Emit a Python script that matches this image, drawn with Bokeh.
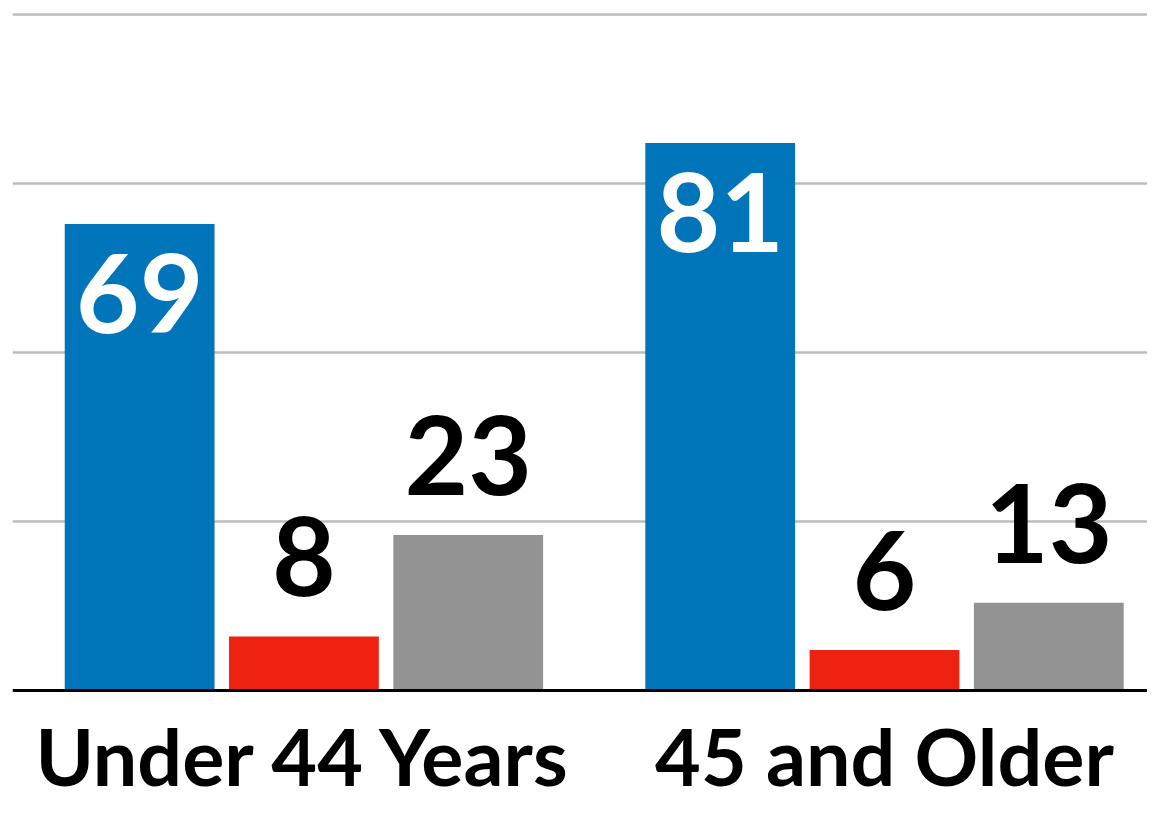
from bokeh.plotting import figure
from bokeh.models import ColumnDataSource, Range1d, FixedTicker, Span
from bokeh.core.properties import value
from bokeh.embed import file_html
from bokeh.resources import INLINE

categories = ["Under 44 Years", "45 and Older"]
blue_vals = [69, 81]
red_vals = [8, 6]
gray_vals = [23, 13]
grid_ticks = [0, 25, 50, 75, 100]

series = [
    (blue_vals, "#0075BA", -0.283, "white", 69),
    (red_vals, "#EE2210", 0.0, "black", -80),
    (gray_vals, "#939393", 0.283, "black", -80),
]

FONT = "Lato"

p = figure(width=1147, height=805, output_backend="svg", toolbar_location=None,
           x_range=Range1d(-0.502, 1.453), y_range=Range1d(-17.01, 100.59),
           min_border_left=12, min_border_right=0, min_border_top=10, min_border_bottom=0)
p.outline_line_color = None
p.background_fill_color = "white"
p.border_fill_color = "white"

idx = list(range(len(categories)))
for vals, color, off, tcolor, yoff in series:
    src = ColumnDataSource(dict(x=[i + off for i in idx], top=vals,
                                label=[str(v) for v in vals]))
    p.vbar(x="x", top="top", bottom=0, width=0.258, source=src,
           fill_color=color, line_color=None)
    p.text(x="x", y="top", text="label", source=src, text_color=tcolor,
           text_font=value(FONT), text_font_style="bold", text_font_size="110px",
           text_align="center", text_baseline="alphabetic", y_offset=yoff)

p.xaxis.visible = False
p.yaxis.visible = False
p.xgrid.visible = False
p.ygrid.ticker = FixedTicker(ticks=grid_ticks)
p.ygrid.grid_line_color = "#BDBDBD"
p.ygrid.grid_line_width = 2.5

p.add_layout(Span(location=0, dimension="width", line_color="black", line_width=3))

cat_src = ColumnDataSource(dict(x=idx, y=[0] * len(idx), text=categories))
p.text(x="x", y="y", text="text", source=cat_src,
       text_font=value(FONT), text_font_style="bold", text_font_size="79px",
       text_color="black", text_align="center", text_baseline="alphabetic",
       y_offset=65)

open("out.html", "w").write(file_html(p, INLINE))
